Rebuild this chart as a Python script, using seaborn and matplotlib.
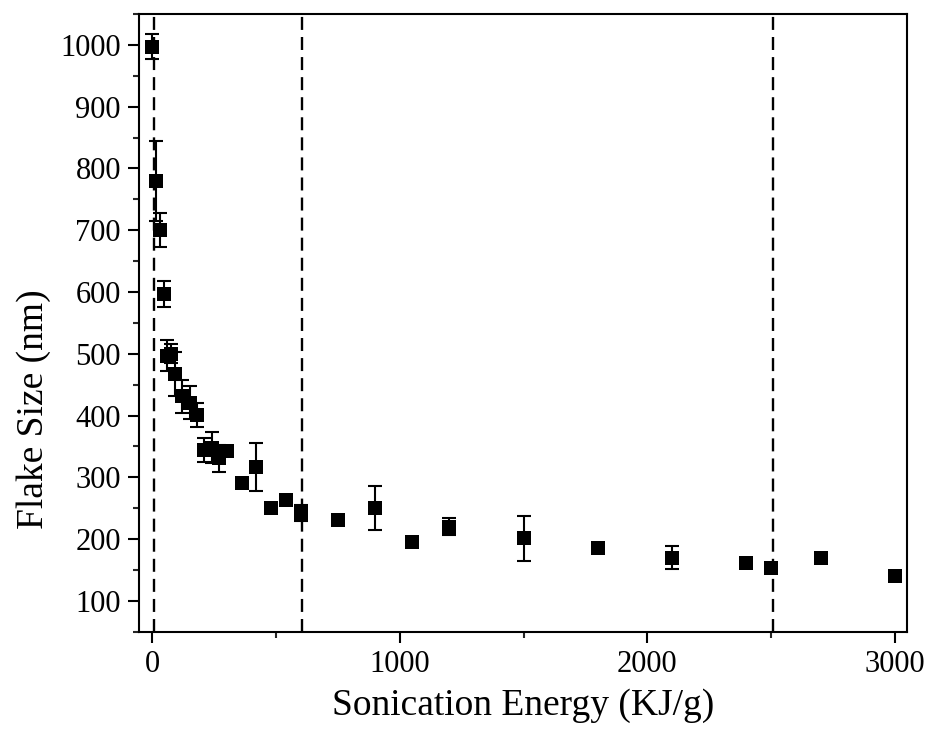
import matplotlib
matplotlib.use("Agg")
import matplotlib.pyplot as plt
import seaborn as sns
import pandas as pd
from matplotlib.ticker import MultipleLocator

# Data
energy = [0, 15, 30, 45, 60, 75, 90, 120, 150, 180, 210, 240, 270, 300, 360, 420,
          480, 540, 600, 750, 900, 1050, 1200, 1500, 1800, 2100, 2400, 2500, 2700, 3000]
flake_size = [997, 780, 700, 597, 497, 500, 467, 431, 421, 401, 344, 348, 331, 343, 290, 317,
              251, 264, 242, 231, 250, 196, 220, 201, 186, 170, 161, 153, 170, 140]
flake_err = [20, 65, 28, 21, 25, 15, 35, 27, 26, 19, 19, 25, 22, 8, 5, 39,
             5, 5, 13, 8, 36, 5, 14, 36, 8, 18, 7, 5, 8, 5]
vlines = [5, 605, 2508]

x_ticks = [0, 1000, 2000, 3000]
y_ticks = [100, 200, 300, 400, 500, 600, 700, 800, 900, 1000]

df = pd.DataFrame({"energy": energy, "size": flake_size, "err": flake_err})

sns.set_theme(style="ticks")
plt.rcParams["font.family"] = ["Liberation Serif", "DejaVu Serif"]

fig = plt.figure(figsize=(9.3, 7.32), dpi=100)
ax = fig.add_axes([0.1495, 0.137, 0.9756 - 0.1495, 0.9809 - 0.137])

for xv in vlines:
    ax.axvline(xv, color="black", lw=1.7, dashes=(5.5, 3), zorder=1)

ax.errorbar(df["energy"], df["size"], yerr=df["err"], fmt="none", ecolor="black",
            elinewidth=1.5, capsize=5, capthick=1.5, zorder=2)
sns.scatterplot(data=df, x="energy", y="size", marker="s", s=100, color="black",
                edgecolor="black", linewidth=0, ax=ax, zorder=3)

ax.set_xlim(-54, 3050)
ax.set_ylim(50, 1050)
ax.set_xticks(x_ticks)
ax.set_yticks(y_ticks)
ax.xaxis.set_minor_locator(MultipleLocator(500))
ax.yaxis.set_minor_locator(MultipleLocator(50))

for side in ["top", "right", "bottom", "left"]:
    ax.spines[side].set_linewidth(1.5)
    ax.spines[side].set_color("black")

ax.tick_params(axis="both", which="major", direction="out", length=8, width=1.5,
               labelsize=22, colors="black", pad=5)
ax.tick_params(axis="both", which="minor", direction="out", length=4.5, width=1.5)
ax.tick_params(top=False, right=False, which="both")

ax.set_xlabel("Sonication Energy (KJ/g)", fontsize=27, color="black")
ax.set_ylabel("Flake Size (nm)", fontsize=27, color="black")
ax.xaxis.set_label_coords(0.5, -0.092)
ax.yaxis.set_label_coords(-0.114, 0.36)

fig.savefig("out.png", dpi=100)
